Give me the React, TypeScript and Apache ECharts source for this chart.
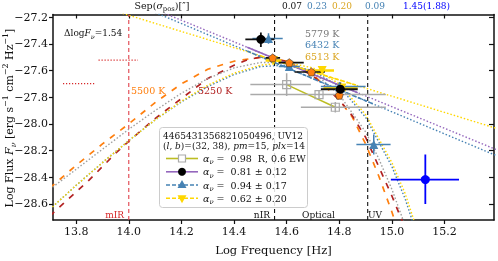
import React, { useEffect, useRef } from "react";
import * as echarts from "echarts";

const X_MIN = 13.712, X_MAX = 15.388, Y_MIN = -28.72, Y_MAX = -27.18;
const xTicks = [13.8, 14.0, 14.2, 14.4, 14.6, 14.8, 15.0, 15.2];
const yTicks = [-28.6, -28.4, -28.2, -28.0, -27.8, -27.6, -27.4, -27.2];

// blackbody-like curves [log nu, log F]
const bb5500 = [[13.70,-28.48],[13.80,-28.31],[13.90,-28.15],[14.00,-28.00],[14.10,-27.84],[14.20,-27.70],[14.30,-27.59],[14.40,-27.53],[14.50,-27.50],[14.60,-27.53],[14.70,-27.63],[14.80,-27.82],[14.85,-27.95],[14.90,-28.15],[14.95,-28.39],[15.00,-28.66],[15.02,-28.78]];
const bb5250 = [[13.70,-28.69],[13.75,-28.60],[13.85,-28.42],[13.95,-28.22],[14.00,-28.13],[14.10,-27.96],[14.20,-27.81],[14.30,-27.66],[14.40,-27.56],[14.45,-27.52],[14.50,-27.50],[14.60,-27.53],[14.70,-27.64],[14.80,-27.82],[14.85,-27.94],[14.90,-28.10],[14.95,-28.32],[15.00,-28.54],[15.05,-28.78]];
const bb5779 = [[13.70,-28.49],[13.80,-28.34],[13.90,-28.19],[14.00,-28.04],[14.10,-27.90],[14.20,-27.77],[14.30,-27.66],[14.40,-27.58],[14.50,-27.54],[14.60,-27.54],[14.70,-27.61],[14.80,-27.78],[14.90,-28.06],[14.95,-28.26],[15.00,-28.49],[15.05,-28.76]];
const bb6432 = [[13.70,-28.64],[13.80,-28.46],[13.90,-28.29],[14.00,-28.125],[14.10,-27.97],[14.20,-27.835],[14.30,-27.72],[14.40,-27.63],[14.50,-27.57],[14.60,-27.56],[14.70,-27.60],[14.80,-27.72],[14.90,-27.95],[15.00,-28.32],[15.05,-28.56],[15.10,-28.86]];
const bb6513 = [[13.70,-28.64],[13.80,-28.46],[13.90,-28.29],[14.00,-28.125],[14.10,-27.97],[14.20,-27.83],[14.30,-27.71],[14.40,-27.62],[14.50,-27.56],[14.60,-27.54],[14.70,-27.58],[14.80,-27.70],[14.90,-27.93],[15.00,-28.29],[15.05,-28.52],[15.10,-28.82]];

// power-law extrapolations and fits
const plGold = [[13.90,-27.125],[15.40,-28.035]];
const plPurple = [[14.00,-27.061],[15.40,-28.195]];
const plBlue = [[14.10,-27.165],[15.40,-28.24]];
const fitGold = [[14.50,-27.489],[14.87,-27.713]];
const fitPurple = [[14.45,-27.426],[14.87,-27.766]];
const fitBlue = [[14.45,-27.454],[14.93,-27.851]];
const fitOlive = [[14.60,-27.705],[14.785,-27.875]];

const redTick1 = [[13.885,-27.522],[14.035,-27.522]];
const redTick2 = [[13.75,-27.698],[13.873,-27.698]];
const bandEdges = [14.0, 14.554, 14.908];

// photometry
const grayPts = [[14.60,-27.705],[14.723,-27.78],[14.785,-27.875]];
const grayXe = [[14.462,14.692],[14.462,14.977],[14.654,14.977]];
const grayYe = [[-27.79,-27.62],[-27.81,-27.75],[-27.915,-27.835]];
const blackPts = [[14.502,-27.366],[14.804,-27.74]];
const blackXe = [[14.443,14.554],[14.73,14.87]];
const blackYe = [[-27.424,-27.315],[-27.79,-27.69]];
const bluePts = [[14.531,-27.36],[14.61,-27.57],[14.80,-27.72],[14.931,-28.155]];
const blueXe = [[14.47,14.585],[14.57,14.65],[14.73,14.90],[14.865,14.995]];
const blueYe = [[-27.40,-27.32],[-27.59,-27.55],[-27.75,-27.69],[-28.23,-28.08]];
const goldPts = [[14.55,-27.525],[14.735,-27.60],[14.81,-27.73]];
const goldXe = [[14.52,14.58],[14.69,14.78],[14.74,14.87]];
const goldYe = [[-27.545,-27.505],[-27.62,-27.58],[-27.75,-27.71]];
const orangePts = [[14.547,-27.505],[14.61,-27.541],[14.694,-27.611],[14.80,-27.785]];
const orangeXe = [[14.52,14.575],[14.57,14.665],[14.63,14.745],[14.80,14.80]];
const orangeYe = [[-27.505,-27.505],[-27.541,-27.541],[-27.611,-27.611],[-27.785,-27.785]];
const uvPts = [[15.127,-28.417]];
const uvXe = [[14.996,15.255]];
const uvYe = [[-28.60,-28.23]];

const FONT = '"DejaVu Serif", serif';
const C = {
  orange: "#ff7f0e", darkred: "#b22222", gray: "#a0a0a0", blue: "#4682b4",
  gold: "#ffd700", goldText: "#daa520", purple: "#9467bd", olive: "#bcbd22", red: "#d62728",
};

const line = (data: number[][], color: string, width: number, type: any, z: number) => ({
  type: "line", data, symbol: "none", smooth: false, clip: true, silent: true, z,
  lineStyle: { color, width, type },
});

const err = (pts: number[][], xe: number[][], ye: number[][], color: string, width: number, z: number) => ({
  type: "custom", z, clip: true, silent: true,
  data: pts.map((p, i) => [p[0], p[1], xe[i][0], xe[i][1], ye[i][0], ye[i][1]]),
  renderItem: (_p: any, api: any) => {
    const x = api.value(0), y = api.value(1);
    const a = api.coord([api.value(2), y]), b = api.coord([api.value(3), y]);
    const c = api.coord([x, api.value(4)]), d = api.coord([x, api.value(5)]);
    const st = { stroke: color, lineWidth: width };
    return { type: "group", children: [
      { type: "line", shape: { x1: a[0], y1: a[1], x2: b[0], y2: b[1] }, style: st },
      { type: "line", shape: { x1: c[0], y1: c[1], x2: d[0], y2: d[1] }, style: st },
    ] };
  },
});

const scat = (data: number[][], symbol: string, size: number, color: string, border: string, bw: number, z: number, rot = 0) => ({
  type: "scatter", data, symbol, symbolSize: size, symbolRotate: rot, z, silent: true, clip: true,
  itemStyle: { color, borderColor: border, borderWidth: bw, opacity: 1 },
});

const PENT = "path://M0,-1 L0.951,-0.309 L0.588,0.809 L-0.588,0.809 L-0.951,-0.309 Z";

const richBase = (size: number, color: string) => ({
  n: { fontFamily: FONT, fontSize: size, fill: color, color, lineHeight: size + 5, verticalAlign: "middle" },
  i: { fontFamily: FONT, fontSize: size, fontStyle: "italic", fill: color, color, lineHeight: size + 5, verticalAlign: "middle" },
  sub: { fontFamily: FONT, fontSize: size * 0.72, fill: color, color, lineHeight: size + 5, verticalAlign: "bottom" },
  subi: { fontFamily: FONT, fontSize: size * 0.72, fontStyle: "italic", fill: color, color, lineHeight: size + 5, verticalAlign: "bottom" },
  sup: { fontFamily: FONT, fontSize: size * 0.72, fill: color, color, lineHeight: size + 5, verticalAlign: "top" },
});

const T = (x: number, y: number, text: string, color: string, size: number, align = "left", extra: any = {}) => ({
  type: "text", x, y, z: 100, silent: true, ...extra,
  style: {
    text, fill: color, fontFamily: FONT, fontSize: size, align, verticalAlign: "middle",
    textAlign: align, textVerticalAlign: "middle", lineHeight: size + 5, rich: richBase(size, color),
  },
});

export default function App() {
  const ref = useRef<HTMLDivElement>(null);
  useEffect(() => {
    if (!ref.current) return;
    const chart = echarts.init(ref.current, undefined, { renderer: "svg" });
    const axisCommon = { type: "value", min: X_MIN, max: X_MAX, splitLine: { show: false } };
    const yCommon = { type: "value", min: Y_MIN, max: Y_MAX, splitLine: { show: false } };
    const spine = { show: true, onZero: false, lineStyle: { color: "#111", width: 1.5 } };
    const lblStyle = { fontFamily: FONT, fontSize: 11, color: "#111" };

    const legendY = [158.5, 171.8, 185, 198.3];
    const legend = {
      type: "group", z: 90, children: [
        { type: "rect", shape: { x: 159.5, y: 127.5, width: 148, height: 80, r: 3 }, style: { fill: "rgba(255,255,255,0.85)", stroke: "#cccccc", lineWidth: 1 }, z: 90 },
        { type: "line", shape: { x1: 166, y1: legendY[0], x2: 198, y2: legendY[0] }, style: { stroke: C.olive, lineWidth: 1.6 }, z: 91 },
        { type: "rect", shape: { x: 178.5, y: legendY[0] - 3.5, width: 7, height: 7 }, style: { fill: "#fff", stroke: "#aaaaaa", lineWidth: 1.2 }, z: 92 },
        { type: "line", shape: { x1: 166, y1: legendY[1], x2: 198, y2: legendY[1] }, style: { stroke: C.purple, lineWidth: 1.6 }, z: 91 },
        { type: "circle", shape: { cx: 182, cy: legendY[1], r: 4 }, style: { fill: "#000" }, z: 92 },
        { type: "line", shape: { x1: 166, y1: legendY[2], x2: 198, y2: legendY[2] }, style: { stroke: C.blue, lineWidth: 1.6, lineDash: [4, 2] }, z: 91 },
        { type: "polygon", shape: { points: [[182, legendY[2] - 5], [186.5, legendY[2] + 3], [177.5, legendY[2] + 3]] }, style: { fill: C.blue }, z: 92 },
        { type: "line", shape: { x1: 166, y1: legendY[3], x2: 198, y2: legendY[3] }, style: { stroke: C.gold, lineWidth: 1.6, lineDash: [4, 2] }, z: 91 },
        { type: "polygon", shape: { points: [[182, legendY[3] + 5], [186.5, legendY[3] - 3], [177.5, legendY[3] - 3]] }, style: { fill: C.gold }, z: 92 },
        T(163, 135.5, "{n|4465431356821050496, UV12}", "#111", 9),
        T(163, 146, "{n|(}{i|l}{n|, }{i|b}{n|)=(32, 38), }{i|pm}{n|=15, }{i|plx}{n|=14}", "#111", 9),
        T(203, legendY[0], "{i|α}{subi|ν}{n| =  0.98  R, 0.6 EW}", "#111", 9.5),
        T(203, legendY[1], "{i|α}{subi|ν}{n| =  0.81 ± 0.12}", "#111", 9.5),
        T(203, legendY[2], "{i|α}{subi|ν}{n| =  0.94 ± 0.17}", "#111", 9.5),
        T(203, legendY[3], "{i|α}{subi|ν}{n| =  0.62 ± 0.20}", "#111", 9.5),
      ],
    };

    const graphics: any[] = [
      T(9, 118, "{n|Log Flux }{i|F}{subi|ν}{n| [erg s}{sup|−1}{n| cm}{sup|−2}{n| Hz}{sup|−1}{n|]}", "#111", 11, "center", { rotation: Math.PI / 2 }),
      T(162, 5, "{n|Sep(}{i|σ}{sub|pos}{n|)[″]}", "#111", 9.5, "center"),
      T(282, 6, "0.07", "#111", 9),
      T(307, 6, "0.23", C.blue, 9),
      T(332, 6, "0.20", C.goldText, 9),
      T(365, 6, "0.09", C.blue, 9),
      T(403, 6, "1.45(1.88)", "#0000ff", 9),
      T(64, 33, "{n|Δlog}{i|F}{subi|ν}{n|=1.54}", "#111", 9),
      T(131, 90, "5500 K", C.orange, 9.5),
      T(198, 90, "5250 K", C.darkred, 9.5),
      T(305, 33, "5779 K", "#777777", 9.5),
      T(305, 44.5, "6432 K", C.blue, 9.5),
      T(305, 56, "6513 K", C.goldText, 9.5),
      T(124, 215, "mIR", C.red, 9, "right"),
      T(270, 215, "nIR", "#111", 9, "right"),
      T(302, 215, "Optical", "#111", 9),
      T(368, 215, "UV", "#111", 9),
      legend,
    ];

    const series: any[] = [
      line(bb5500, C.orange, 1.7, [6, 7], 2),
      line(bb5250, C.darkred, 1.7, [6, 7], 2),
      line(bb5779, C.gray, 1.4, [1.5, 2], 2),
      line(bb6432, C.blue, 1.4, [1.5, 2], 2),
      line(bb6513, C.gold, 1.4, [1.5, 2], 3),
      line(plPurple, C.purple, 1.4, [1.5, 2], 3),
      line(plBlue, C.blue, 1.4, [1.5, 2], 3),
      line(plGold, C.gold, 1.4, [1.5, 2], 3),
      line(redTick1, C.red, 1.2, [1.2, 1.8], 3),
      line(redTick2, C.red, 1.2, [1.2, 1.8], 3),
      ...bandEdges.map((v, i) => line([[v, Y_MIN], [v, Y_MAX]], i === 0 ? "#e0404a" : "#111", 1.1, [4, 3], 4)),
      line(fitOlive, C.olive, 1.5, "solid", 5),
      line(fitPurple, C.purple, 1.6, "solid", 5),
      line(fitBlue, C.blue, 1.6, [4, 2], 5),
      line(fitGold, C.gold, 1.6, [4, 2], 5),
      err(grayPts, grayXe, grayYe, "#aaaaaa", 1.5, 6),
      err(goldPts, goldXe, goldYe, C.gold, 2.5, 6),
      err(bluePts, blueXe, blueYe, C.blue, 1.5, 7),
      err(orangePts, orangeXe, orangeYe, "#111", 1.6, 7),
      err(blackPts, blackXe, blackYe, "#111", 1.8, 7),
      err(uvPts, uvXe, uvYe, "#0000ff", 1.8, 7),
      scat(grayPts, "rect", 8, "rgba(255,255,255,0)", "#aaaaaa", 1.2, 8),
      scat(goldPts, "triangle", 9, C.gold, C.gold, 0, 8, 180),
      scat(bluePts, "triangle", 9, C.blue, C.blue, 0, 9),
      scat(orangePts, PENT, 8, C.orange, "#333", 0.6, 9),
      scat(blackPts, "circle", 9, "#000", "#000", 0, 10),
      scat(uvPts, "circle", 9, "#0000ff", "#0000ff", 0, 10),
    ];

    chart.setOption({
      animation: false,
      grid: { left: 53, right: 4, top: 14.5, bottom: 33 },
      xAxis: [
        { ...axisCommon, position: "bottom", axisLine: spine,
          axisTick: { show: true, inside: false, length: 4, customValues: xTicks, lineStyle: { color: "#111", width: 1.2 } },
          axisLabel: { show: true, customValues: xTicks, formatter: (v: number) => v.toFixed(1), margin: 6, ...lblStyle },
          name: "Log Frequency [Hz]", nameLocation: "middle", nameGap: 24,
          nameTextStyle: { fontFamily: FONT, fontSize: 11.5, color: "#111" } },
        { ...axisCommon, position: "top", axisLine: spine,
          axisTick: { show: true, inside: true, length: 4, customValues: xTicks, lineStyle: { color: "#111", width: 1.2 } },
          axisLabel: { show: false } },
      ],
      yAxis: [
        { ...yCommon, position: "left", axisLine: spine,
          axisTick: { show: true, inside: false, length: 4, customValues: yTicks, lineStyle: { color: "#111", width: 1.2 } },
          axisLabel: { show: true, customValues: yTicks, formatter: (v: number) => v.toFixed(1).replace("-", "−"), margin: 5, ...lblStyle } },
        { ...yCommon, position: "right", axisLine: spine,
          axisTick: { show: true, inside: true, length: 5, customValues: yTicks, lineStyle: { color: "#111", width: 1.2 } },
          axisLabel: { show: false } },
      ],
      series,
      graphic: { elements: graphics },
    });
    return () => chart.dispose();
  }, []);
  return <div ref={ref} style={{ position: "fixed", left: 0, top: 0, width: 498, height: 261 }} />;
}
